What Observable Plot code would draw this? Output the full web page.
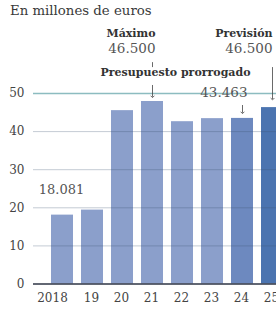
<!DOCTYPE html>
<html><head><meta charset="utf-8">
<script src="https://cdn.jsdelivr.net/npm/d3@7"></script>
<script src="https://cdn.jsdelivr.net/npm/@observablehq/plot@0.6"></script>
<style>
body{margin:0;background:#fff;}
#title{font-family:"DejaVu Serif",serif;font-size:13.3px;line-height:22px;height:22px;color:#3a3a3a;padding-left:10px;white-space:nowrap;}
svg{display:block;overflow:visible;}
</style></head>
<body>
<div id="title">En millones de euros</div>
<div id="chart"></div>
<script>
const years = ["2018","2019","2020","2021","2022","2023","2024","2025"];
const tickLabels = ["2018","19","20","21","22","23","24","25"];
const values = [18.081, 19.4, 45.5, 47.9, 42.6, 43.4, 43.463, 46.3];
const kinds = ["real","real","real","real","real","real","prorrogado","prevision"];
const yTicks = [0,10,20,30,40,50];

const data = years.map((y,i)=>({year:y, value:values[i], kind:kinds[i]}));
const fmtX = d => tickLabels[years.indexOf(d)];

const serif = "DejaVu Serif";
const plot = Plot.plot({
  width: 276,
  height: 287,
  marginLeft: 33,
  marginRight: 0,
  marginTop: 0,
  marginBottom: 25.5,
  style: {fontFamily: serif, background: "#fff", overflow: "visible"},
  x: {domain: years, range: [40.9, 292.5], padding: 0.276, label: null},
  y: {domain: [0, 50], range: [261.5, 71], label: null},
  color: {domain: ["real","prorrogado","prevision"], range: ["#8b9fcb","#6d89bf","#4b74b0"]},
  marks: [
    Plot.barY(data, {x: "year", y: "value", fill: "kind"}),
    Plot.ruleY([10,20,30,40], {stroke: "#3a5270", strokeOpacity: 0.3, strokeWidth: 1}),
    Plot.ruleY([50], {stroke: "#8cbcc0", strokeWidth: 1.3}),
    Plot.ruleY([0], {stroke: "#2e3445", strokeWidth: 1.6}),
    Plot.axisY({ticks: yTicks, tickSize: 0, tickPadding: 9, fontSize: 12, fill: "#444", tickFormat: d => String(d)}),
    Plot.axisX({ticks: years.slice(0,1), tickSize: 0, tickPadding: 9, dx: -10, fontSize: 12, fill: "#444", tickFormat: fmtX}),
    Plot.axisX({ticks: years.slice(1), tickSize: 0, tickPadding: 9, dx: -1, fontSize: 12, fill: "#444", tickFormat: fmtX}),
    // annotations
    Plot.text(["18.081"], {x: ["2018"], y: [24.8], text: d => d, dx: -1, fontSize: 13, fill: "#555", fontFamily: serif}),
    Plot.text(["Máximo"], {x: ["2021"], y: [65.75], text: d => d, textAnchor: "end", dx: 3, fontSize: 11, fontWeight: "bold", fill: "#333", fontFamily: serif}),
    Plot.text(["46.500"], {x: ["2021"], y: [61.8], text: d => d, textAnchor: "end", dx: 3, fontSize: 13.5, fill: "#555", fontFamily: serif}),
    Plot.text(["Previsión"], {x: ["2025"], y: [65.75], text: d => d, textAnchor: "end", dx: 0, fontSize: 11, fontWeight: "bold", fill: "#333", fontFamily: serif}),
    Plot.text(["46.500"], {x: ["2025"], y: [61.8], text: d => d, textAnchor: "end", dx: 0, fontSize: 13.5, fill: "#555", fontFamily: serif}),
    Plot.text(["Presupuesto prorrogado"], {x: ["2024"], y: [55.4], text: d => d, textAnchor: "end", dx: 8, fontSize: 11, fontWeight: "bold", fill: "#333", fontFamily: serif}),
    Plot.text(["43.463"], {x: ["2024"], y: [50.3], text: d => d, textAnchor: "end", dx: 5, fontSize: 13.5, fill: "#555", fontFamily: serif}),
    Plot.ruleX(["2021"], {y1: 58.1, y2: 56.8, stroke: "#444", strokeWidth: 0.8}),
    Plot.ruleX(["2021"], {y1: 52.1, y2: 49.0, stroke: "#444", strokeWidth: 0.8, markerEnd: "arrow"}),
    Plot.ruleX(["2024"], {y1: 46.85, y2: 44.8, stroke: "#444", strokeWidth: 0.8, markerEnd: "arrow"}),
    Plot.ruleX(["2025"], {y1: 56.8, y2: 48.4, stroke: "#444", strokeWidth: 0.8, markerEnd: "arrow"})
  ]
});
document.getElementById("chart").append(plot);
</script>
</body></html>
